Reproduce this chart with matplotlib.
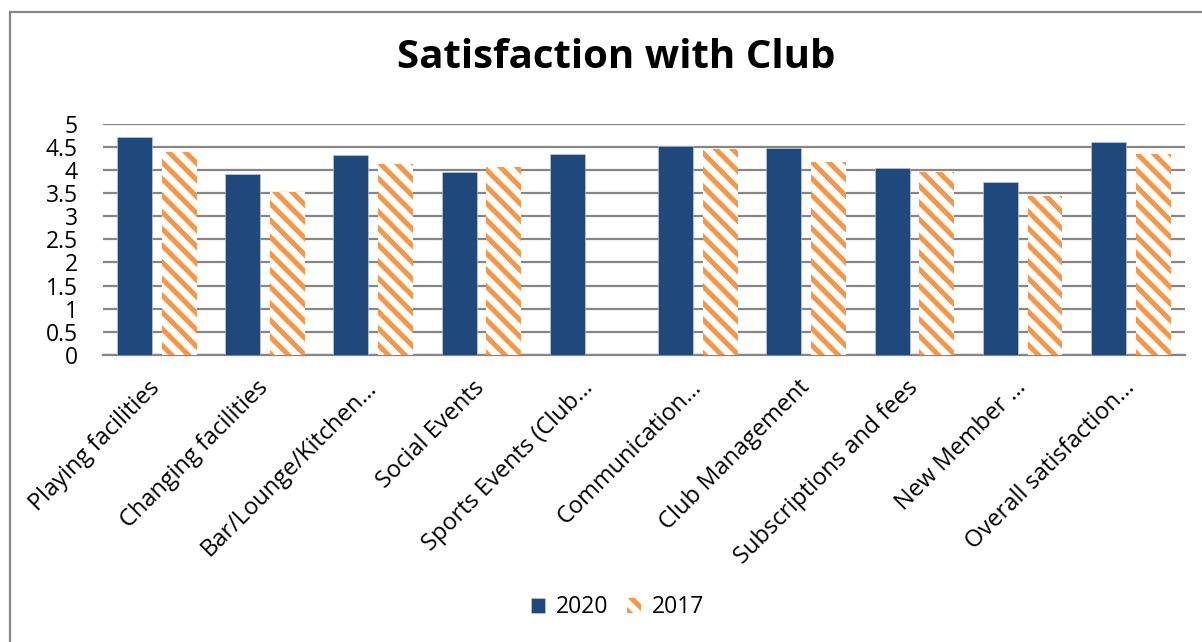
import numpy as np
import matplotlib.pyplot as plt
from matplotlib.lines import Line2D

plt.rcParams['font.family'] = ['Open Sans', 'DejaVu Sans']
plt.rcParams['hatch.linewidth'] = 3.6

categories = ['Playing facilities', 'Changing facilities', 'Bar/Lounge/Kitchen\u2026',
              'Social Events', 'Sports Events (Club\u2026', 'Communication\u2026',
              'Club Management', 'Subscriptions and fees', 'New Member \u2026',
              'Overall satisfaction\u2026']
scores_2020 = [4.70, 3.91, 4.32, 3.96, 4.35, 4.52, 4.48, 4.04, 3.74, 4.60]
scores_2017 = [4.38, 3.52, 4.12, 4.06, np.nan, 4.45, 4.17, 3.96, 3.43, 4.35]
yticks = [0, 0.5, 1, 1.5, 2, 2.5, 3, 3.5, 4, 4.5, 5]

BLUE = '#1F497D'
ORANGE = '#F79646'
GRID = '#868686'

fig = plt.figure(figsize=(12.02, 6.42), dpi=100)
ax = fig.add_axes([0.0854, 0.447, 0.9005, 0.3606])

x = np.arange(len(categories))
w = 0.323
off = 0.206
ax.bar(x - off, scores_2020, w, color=BLUE, edgecolor='#C9D3E0', linewidth=0.4,
       label='2020', zorder=3)
ax.bar(x + off, scores_2017, w, color='white', edgecolor=ORANGE, hatch='\\\\',
       linewidth=0, label='2017', zorder=3)

ax.set_xlim(-0.5, len(categories) - 0.5)
ax.set_ylim(0, 5)
ax.set_yticks(yticks)
ax.set_yticklabels([f'{v:g}' for v in yticks])
ax.yaxis.grid(True, color=GRID, linewidth=1.6, zorder=0)
ax.set_axisbelow(True)
for s in ['top', 'right', 'left']:
    ax.spines[s].set_visible(False)
ax.spines['bottom'].set_color(GRID)
ax.spines['bottom'].set_linewidth(1.6)
ax.tick_params(axis='y', length=0, pad=18, labelsize=16.5)
ax.tick_params(axis='x', length=0, pad=21, labelsize=17)

ax.set_xticks(x)
ax.set_xticklabels(categories, rotation=45, ha='right', va='center',
                   rotation_mode='anchor')

fig.text(0.513, 0.91, 'Satisfaction with Club', ha='center', va='center',
         fontsize=29, fontweight='bold')

fig.legend(loc='center', bbox_to_anchor=(0.514, 0.054), ncol=2, frameon=False,
           fontsize=16.5, handlelength=0.6, handleheight=0.6,
           handletextpad=0.5, columnspacing=0.8)

# chart frame: only the left and top edges fall inside the canvas
fig.add_artist(Line2D([10 / 1202, 10 / 1202], [0, 1 - 12 / 642],
                      color=GRID, linewidth=1.6, transform=fig.transFigure))
fig.add_artist(Line2D([10 / 1202, 1], [1 - 12 / 642, 1 - 12 / 642],
                      color=GRID, linewidth=1.6, transform=fig.transFigure))

fig.savefig('out.png', dpi=100, facecolor='white')
